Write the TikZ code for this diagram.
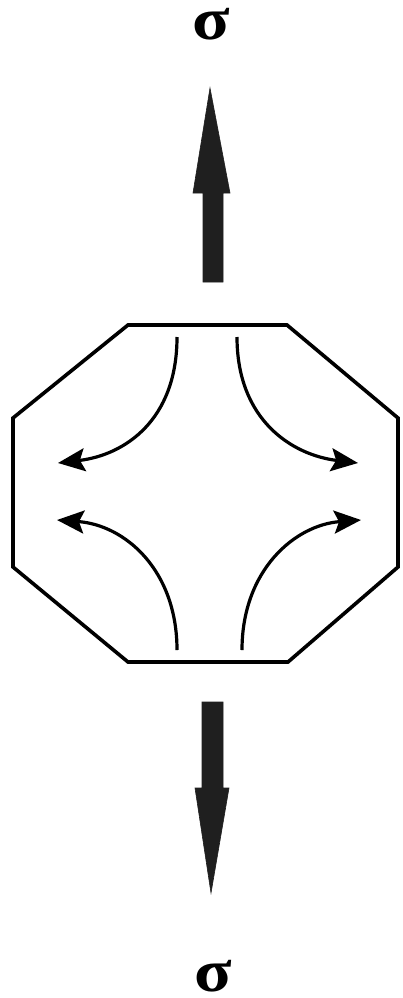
\documentclass[tikz,border=0pt]{standalone}
\usepackage{fontspec}
\newfontfamily\sigmafont{Liberation Serif}
\usetikzlibrary{arrows.meta}
\begin{document}
\begin{tikzpicture}[x=1pt,y=-1pt,
  outline/.style={draw=black,line width=3.6pt,line join=miter},
  flow/.style={draw=black,line width=3.2pt,-{Stealth[length=27pt,width=23pt,inset=5pt]}},
  bigarrow/.style={fill=black!88,draw=black!88,line width=0.6pt,line join=miter},
  sig/.style={font=\sigmafont\bfseries\fontsize{60}{62}\selectfont,inner sep=0pt}]
\useasboundingbox (0,0) rectangle (403,998);
\fill[white] (0,0) rectangle (403,998);
% sigma labels
\node[sig] (stop) at (211,24) {\scalebox{1.15}[1]{σ}};
\node[sig] (sbot) at (213,976) {\scalebox{1.15}[1]{σ}};
% big arrows
\path[bigarrow] (203,282) -- (203,193) -- (193,193) -- (210,88) -- (230,193) -- (223,193) -- (223,282) -- cycle;
\path[bigarrow] (202,702) -- (223,702) -- (223,788) -- (229,788) -- (211,893) -- (195,788) -- (202,788) -- cycle;
% octagon
\draw[outline] (128,325) -- (287,325) -- (398,418) -- (398,567) -- (288,662) -- (128,662) -- (13,567) -- (13,418) -- cycle;
% curved flow arrows
\draw[flow] (177,337) .. controls (177,420) and (125,455) .. (58,463);
\draw[flow] (237,337) .. controls (237,420) and (292,455) .. (358,463);
\draw[flow] (177,650) .. controls (177,570) and (125,525) .. (57,520);
\draw[flow] (242,650) .. controls (242,570) and (295,525) .. (361,520);
\end{tikzpicture}
\end{document}
